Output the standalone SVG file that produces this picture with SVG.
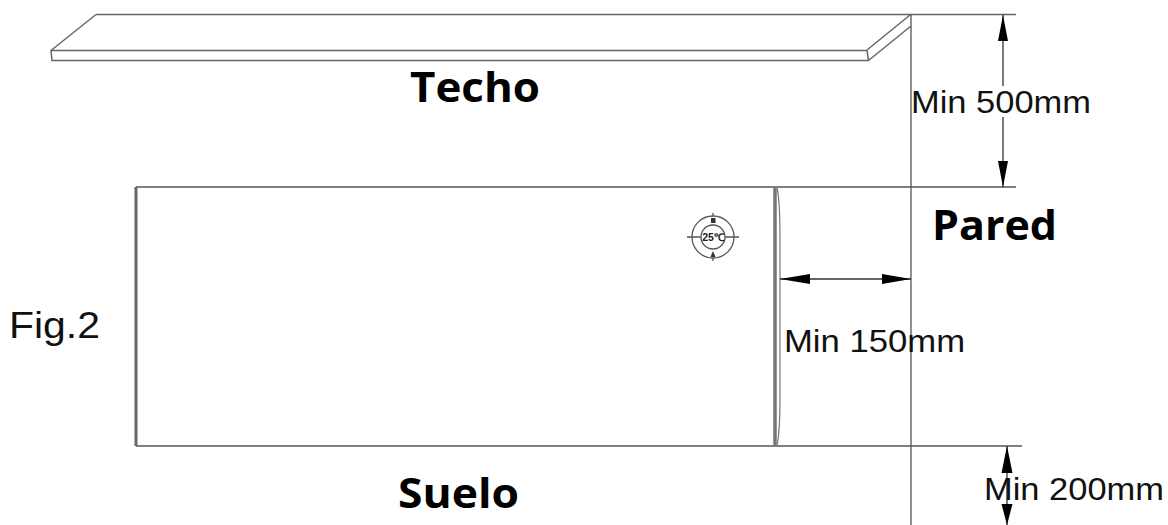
<svg xmlns="http://www.w3.org/2000/svg" width="1168" height="525" viewBox="0 0 1168 525">
<style>
.l{fill:none;stroke:#555;stroke-width:1.3}
.d{fill:none;stroke:#666;stroke-width:1.5}
.a{fill:#000;stroke:none}
.b{font-family:"Open Sans","Noto Sans",sans-serif;font-weight:700;font-size:41px;fill:#000}
.t{font-family:"Liberation Sans",Arial,sans-serif;font-size:31px;fill:#111}
</style>
<rect width="1168" height="525" fill="#fff"/>
<g id="techo">
<path class="d" d="M96 14.500H1016M51 50.500 96 14.500M51 50.500H867L868.500 60.500H52ZM867 50 910 15M868.500 60.500 911 26"/>
</g>
<g id="pared">
<path class="l" d="M911 15V525"/>
</g>
<g id="unit">
<path d="M136 187H1016M136 446H1022" fill="none" stroke="#555" stroke-width="1.4"/>
<path d="M136 187V446" fill="none" stroke="#666" stroke-width="3"/>
<path d="M775 188V446" fill="none" stroke="#777" stroke-width="3.500"/>
<path d="M777 188Q780 200 780 240V400Q780 430 777 446" fill="none" stroke="#777" stroke-width="1.200"/>
</g>
<g id="control">
<circle cx="713" cy="237" r="21" class="l" stroke-width="1.500"/>
<circle cx="713" cy="237" r="12" class="l" stroke-width="1.500"/>
<path class="l" d="M701 237h-9M725 237h9M692 237h-5M734 237h5M713 216v-3M713 258v3"/>
<rect x="711" y="218" width="4.500" height="5" fill="#333"/>
<path d="M710.500 257l2.500-6 2.500 6z" fill="#333"/>
<text x="713" y="241" font-family="Liberation Sans,sans-serif" font-size="10.500" font-weight="700" text-anchor="middle" fill="#222">25℃</text>
</g>
<g id="connectors">
<path d="M1003 15V86M1003 117V187M780 279H911M1007 446V525" fill="none" stroke="#333" stroke-width="1.300"/>
<path class="a" d="M1003 15 1008 41H998ZM1003 187 998 161H1008ZM780 279 810 274V284ZM911 279 882 274V284ZM1007 446 1012.500 473H1001.500ZM1007 525 1001.500 504H1012.500Z"/>
</g>
<g id="labels">
<text class="b" x="410" y="102" textLength="130" lengthAdjust="spacingAndGlyphs">Techo</text>
<text class="b" x="932" y="240" textLength="125" lengthAdjust="spacingAndGlyphs">Pared</text>
<text class="b" x="398" y="508" textLength="121" lengthAdjust="spacingAndGlyphs">Suelo</text>
<text class="t" x="911" y="113" textLength="180" lengthAdjust="spacingAndGlyphs">Min 500mm</text>
<text class="t" x="784" y="352" textLength="181" lengthAdjust="spacingAndGlyphs">Min 150mm</text>
<text class="t" x="984" y="500" textLength="180" lengthAdjust="spacingAndGlyphs">Min 200mm</text>
<text class="t" x="9" y="338" style="font-size:36px" textLength="91" lengthAdjust="spacingAndGlyphs">Fig.2</text>
</g>
</svg>
